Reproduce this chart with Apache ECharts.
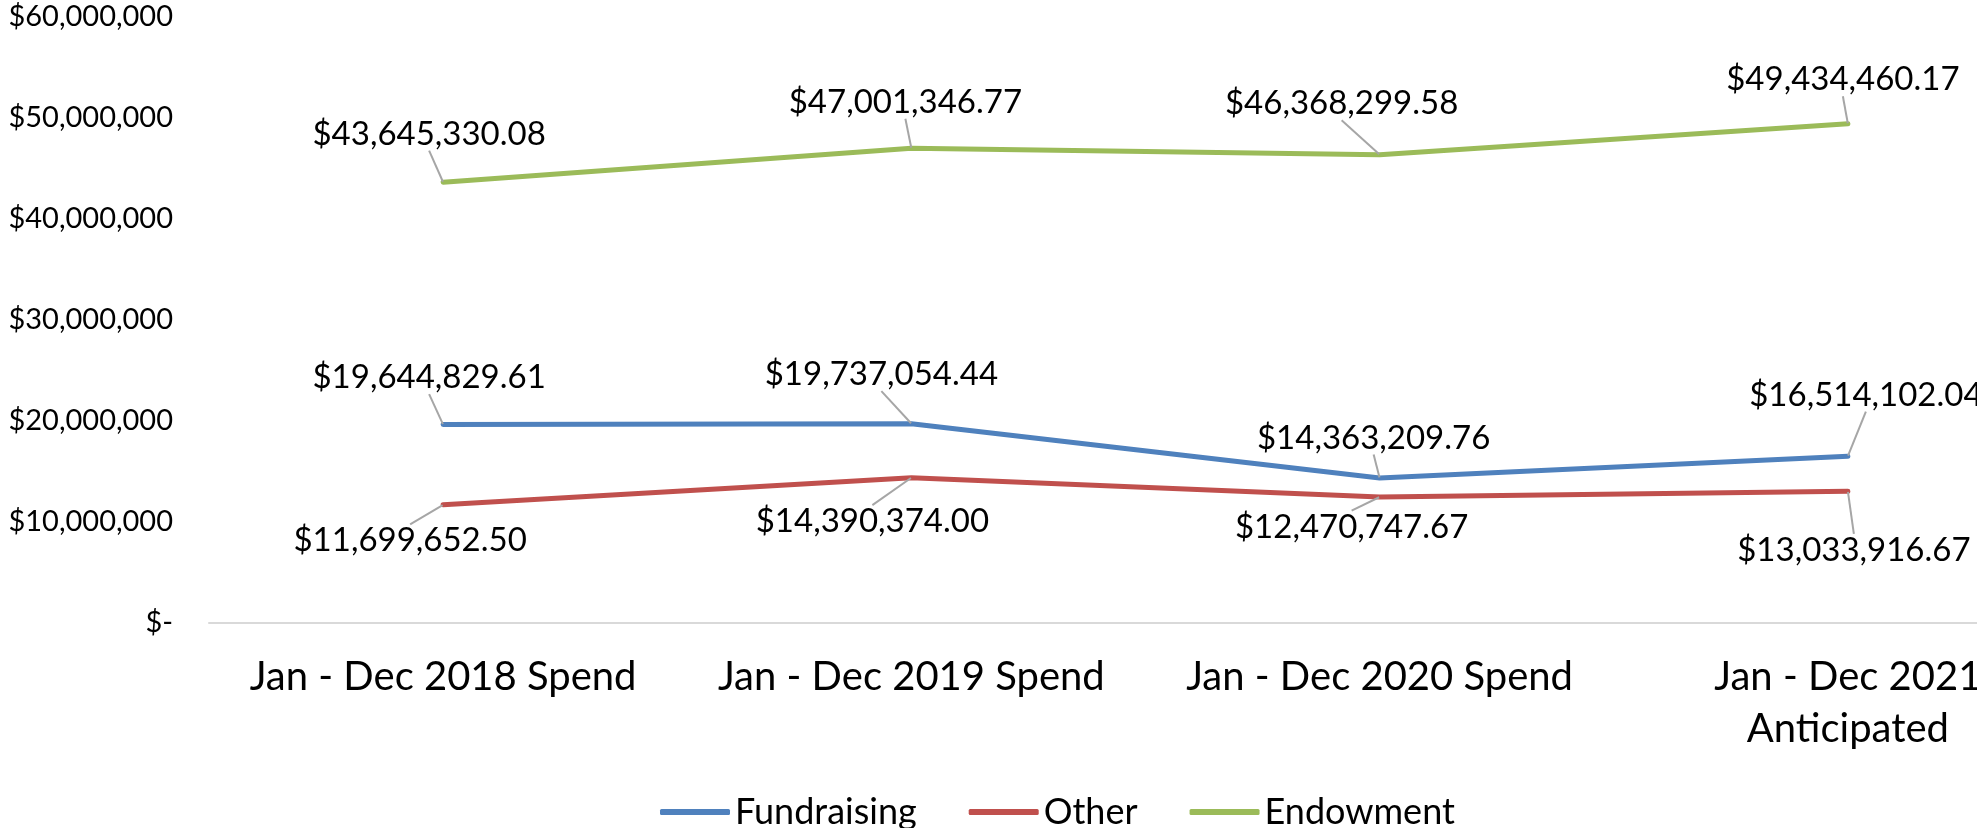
<!DOCTYPE html>
<html>
<head>
<meta charset="utf-8">
<script src="https://cdn.jsdelivr.net/npm/echarts@6/dist/echarts.min.js"></script>
<style>
  html, body { margin: 0; padding: 0; background: #fff; }
  #chart { width: 1977px; height: 828px; }
</style>
</head>
<body>
<div id="chart"></div>
<script>
// data
var categories = ['Jan - Dec 2018 Spend', 'Jan - Dec 2019 Spend', 'Jan - Dec 2020 Spend', 'Jan - Dec 2021\nAnticipated'];
var fundraising = [19644829.61, 19737054.44, 14363209.76, 16514102.04];
var other = [11699652.50, 14390374.00, 12470747.67, 13033916.67];
var endowment = [43645330.08, 47001346.77, 46368299.58, 49434460.17];

// where each data label sits relative to its point (dx, dy) and whether it has a leader line
var labelShift = [
  [[-14, -47], [-30, -49], [-6, -40], [18, -61]],
  [[-33, 36], [-39, 44], [-28, 30], [6, 59]],
  [[-14, -48], [-6, -46], [-38, -51], [-5, -44]]
];
var leader = [
  [true, true, false, true],
  [false, true, false, true],
  [true, true, true, false]
];

var FONT = 'Lato, "Open Sans", sans-serif';

function money(v) {
  return '$' + v.toLocaleString('en-US', { minimumFractionDigits: 2, maximumFractionDigits: 2 });
}

// short leader from the point towards the label, stopping a little before the text box
function leaderPoints(p, s, on) {
  var ax = p.rect.x + p.rect.width / 2;
  var ay = p.rect.y + p.rect.height / 2;
  if (!on) return [[ax, ay], [ax, ay]];
  var r = p.labelRect;
  var cx = r.x + r.width / 2 + s[0];
  var cy = r.y + r.height / 2 + s[1];
  var hw = r.width / 2 + 2, hh = r.height / 2 + 6;
  var vx = ax - cx, vy = ay - cy;
  var t = Math.min(vx ? hw / Math.abs(vx) : Infinity, vy ? hh / Math.abs(vy) : Infinity);
  return [[ax, ay], [cx + vx * t, cy + vy * t]];
}

function makeSeries(name, values, color, si) {
  return {
    name: name,
    type: 'line',
    data: values,
    showSymbol: true,
    symbol: 'circle',
    symbolSize: 1,
    lineStyle: { color: color, width: 5, cap: 'round', join: 'round' },
    itemStyle: { color: color },
    label: {
      show: true,
      position: 'inside',
      formatter: function (p) { return money(p.value); },
      fontFamily: FONT,
      fontSize: 33,
      color: '#000'
    },
    labelLine: { show: true, lineStyle: { color: '#A6A6A6', width: 2 } },
    labelLayout: function (p) {
      var s = labelShift[si][p.dataIndex];
      return {
        dx: s[0],
        dy: s[1],
        labelLinePoints: leaderPoints(p, s, leader[si][p.dataIndex])
      };
    },
    silent: true,
    animation: false
  };
}

var myChart = echarts.init(document.getElementById('chart'));

var option = {
  animation: false,
  grid: { left: 209, top: 17, width: 1873, height: 606, outerBoundsMode: 'none' },
  legend: {
    left: 655,
    top: 789,
    icon: 'roundRect',
    itemWidth: 70,
    itemHeight: 6,
    itemGap: 52,
    textStyle: { fontFamily: FONT, fontSize: 36, color: '#000' },
    data: ['Fundraising', 'Other', 'Endowment']
  },
  xAxis: {
    type: 'category',
    data: categories,
    boundaryGap: true,
    axisLine: { lineStyle: { color: '#D9D9D9', width: 2 } },
    axisTick: { show: false },
    axisLabel: {
      interval: 0,
      margin: 28,
      fontFamily: FONT,
      fontSize: 40,
      lineHeight: 52,
      color: '#000'
    }
  },
  yAxis: {
    type: 'value',
    min: 0,
    max: 60000000,
    interval: 10000000,
    splitLine: { show: false },
    axisLine: { show: false },
    axisTick: { show: false },
    axisLabel: {
      margin: 36,
      fontFamily: FONT,
      fontSize: 29,
      color: '#000',
      formatter: function (v) { return v === 0 ? '$-' : '$' + v.toLocaleString('en-US'); }
    }
  },
  series: [
    makeSeries('Fundraising', fundraising, '#4F81BD', 0),
    makeSeries('Other', other, '#C0504D', 1),
    makeSeries('Endowment', endowment, '#9BBB59', 2)
  ]
};

myChart.setOption(option);
</script>
</body>
</html>
